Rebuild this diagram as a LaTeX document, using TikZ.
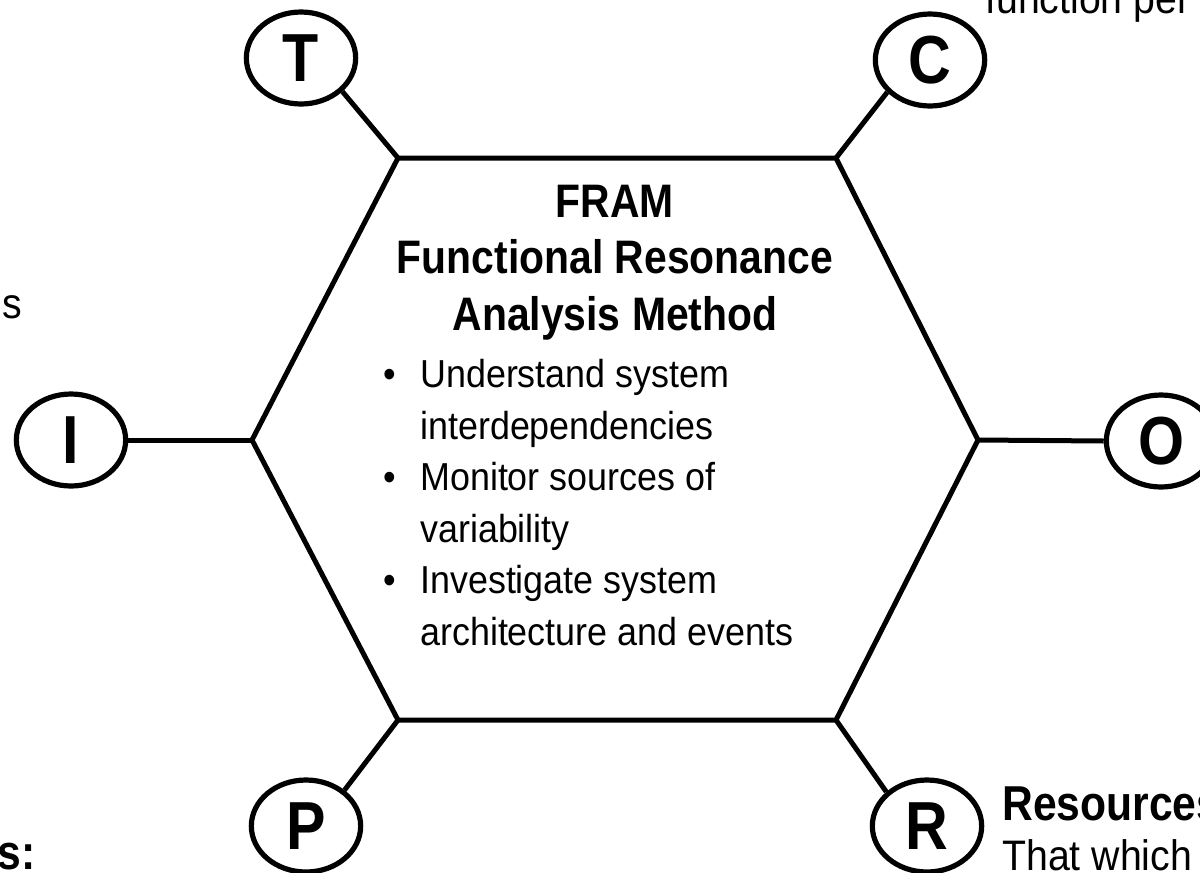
\documentclass[tikz,border=0pt]{standalone}
\usepackage{fontspec}
\setmainfont[FakeStretch=0.92]{Liberation Sans}
\newfontfamily\condsans[FakeStretch=0.87]{Liberation Sans}
\usetikzlibrary{shapes.geometric}
\begin{document}
\begin{tikzpicture}[x=0.75pt,y=-0.75pt,
  hexline/.style={draw=black, line width=3.75pt, line join=miter},
  link/.style={draw=black, line width=3.75pt},
  port/.style={draw=black, ellipse, line width=3.9pt, fill=white,
    minimum width=82pt, minimum height=69pt, inner sep=0pt,
    font=\condsans\bfseries\fontsize{51}{51}\selectfont},
  title/.style={anchor=base, inner sep=0pt,
    font=\condsans\bfseries\fontsize{35.25}{40}\selectfont},
  item/.style={anchor=base west, inner sep=0pt,
    font=\fontsize{29.25}{33}\selectfont},
  bullet/.style={anchor=base, inner sep=0pt,
    font=\fontsize{29.25}{33}\selectfont},
  sidetext/.style={inner sep=0pt, font=\fontsize{32}{36}\selectfont},
  sidebold/.style={inner sep=0pt, font=\condsans\bfseries\fontsize{36.75}{40}\selectfont},
  ]
\useasboundingbox (0,0) rectangle (1200,872);
\clip (0,0) rectangle (1200,872);
\fill[white] (0,0) rectangle (1200,872);

% hexagon
\coordinate (tl) at (398,158);
\coordinate (tr) at (836,158);
\coordinate (rv) at (978,440);
\coordinate (br) at (836,720);
\coordinate (bl) at (398,720);
\coordinate (lv) at (252,440);
\draw[hexline, fill=white] (tl) -- (tr) -- (rv) -- (br) -- (bl) -- (lv) -- cycle;

% aspects
\node[port] (T) at (301,58) {T};
\node[port] (C) at (930,60) {C};
\node[port] (I) at (71,440) {I};
\node[port] (O) at (1161,441) {O};
\node[port] (P) at (306,826) {P};
\node[port] (R) at (927,826) {R};

\draw[link] (tl) -- (T.321);
\draw[link] (tr) -- (C.217);
\draw[link] (lv) -- (I.east);
\draw[link] (rv) -- (O.west);
\draw[link] (bl) -- (P.43);
\draw[link] (br) -- (R.140);

% title
\node[title] (t1) at (615,217) {FRAM};
\node[title] (t2) at (615,273) {Functional Resonance};
\node[title] (t3) at (615,330) {Analysis Method};

% bullets
\node[bullet] (d1) at (390,387) {•};
\node[item] (b1) at (420,387) {Understand system};
\node[item] (b2) at (420,439) {interdependencies};
\node[bullet] (d2) at (390,490) {•};
\node[item] (b3) at (420,490) {Monitor sources of};
\node[item] (b4) at (420,542) {variability};
\node[bullet] (d3) at (390,593) {•};
\node[item] (b5) at (420,593) {Investigate system};
\node[item] (b6) at (420,645) {architecture and events};

% cut-off side texts
\node[sidetext, anchor=base west] (fp) at (985,13) {function per};
\node[sidetext, anchor=base west] (sl) at (2,318) {s};
\node[sidebold, anchor=base east] (ns) at (36,869) {ns:};
\node[sidebold, anchor=base west] (res) at (1002,820) {Resources};
\node[sidetext, anchor=base west] (tw) at (1002,870) {That which};
\end{tikzpicture}
\end{document}
